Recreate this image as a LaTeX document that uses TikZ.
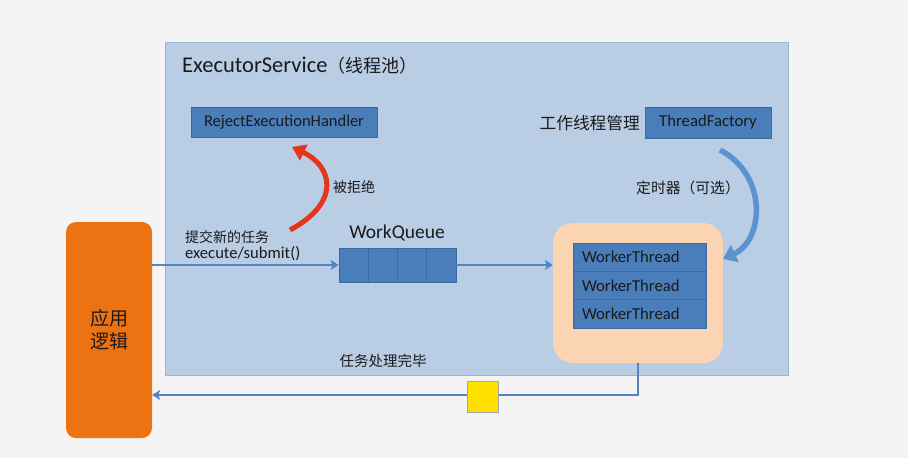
\documentclass[tikz,border=0pt]{standalone}
\usepackage{fontspec}
\setmainfont{Carlito}
\newfontfamily\cjk{Noto Sans CJK SC}
\usetikzlibrary{arrows.meta}
\definecolor{bg}{HTML}{F4F4F4}
\definecolor{poolfill}{HTML}{B9CDE5}
\definecolor{pooldraw}{HTML}{98B4D6}
\definecolor{boxfill}{HTML}{4A7EBB}
\definecolor{boxdraw}{HTML}{3C68A0}
\definecolor{txt}{HTML}{1A1A1A}
\definecolor{orangefill}{HTML}{EC7212}
\definecolor{peachfill}{HTML}{FBD4B4}
\definecolor{flowcol}{HTML}{5285C0}
\definecolor{redcol}{HTML}{E5351C}
\definecolor{bluecurve}{HTML}{5A93D0}
\definecolor{yellowfill}{HTML}{FFE000}
\tikzset{
  darkbox/.style={draw=boxdraw, fill=boxfill, line width=0.8pt, inner sep=0pt,
    text=txt, font=\fontsize{16.7}{18}\selectfont},
  workerbox/.style={darkbox, inner xsep=9pt, text width=115pt, align=left,
    minimum height=28.3pt},
  lbl/.style={inner sep=0pt, text=txt, font=\fontsize{14}{16}\selectfont},
  flow/.style={draw=flowcol, line width=2pt, -{Stealth[width=10pt,length=8pt,inset=2pt]}},
}
\begin{document}
\begin{tikzpicture}[x=1pt,y=-1pt]
\useasboundingbox (0,0) rectangle (908,458);
\fill[bg] (0,0) rectangle (908,458);

% pool
\node[draw=pooldraw, fill=poolfill, line width=1pt, inner sep=0pt,
  minimum width=623pt, minimum height=333pt, anchor=north west] (pool) at (165,42) {};
\node[lbl, anchor=base west, font=\fontsize{22.5}{26}\selectfont] (title) at (182,72)
  {ExecutorService{\cjk\fontsize{18}{22}\selectfont（线程池）}};

% reject handler
\node[darkbox, font=\fontsize{16.5}{18}\selectfont, minimum width=186pt, minimum height=30pt] (reject) at (284,122)
  {RejectExecutionHandler};

% thread factory
\node[darkbox, minimum width=126pt, minimum height=31pt] (tf) at (708,122.5)
  {ThreadFactory};
\node[lbl, anchor=east, font=\cjk\fontsize{16.7}{18}\selectfont] (tflabel) at (640,123)
  {工作线程管理};

% app logic
\node[fill=orangefill, rounded corners=10pt, inner sep=0pt,
  minimum width=86pt, minimum height=216pt, text=txt, align=center,
  font=\cjk\fontsize{19}{23}\selectfont] (app) at (109,330) {应用\\逻辑};

% worker area
\node[fill=peachfill, rounded corners=20pt, inner sep=0pt,
  minimum width=170pt, minimum height=140pt] (peach) at (638,293) {};
\node[workerbox] (wt1) at (639.5,257.2) {WorkerThread};
\node[workerbox] (wt2) at (639.5,285.5) {WorkerThread};
\node[workerbox] (wt3) at (639.5,313.8) {WorkerThread};

% work queue
\node[darkbox, minimum width=29.25pt, minimum height=34pt] (q1) at (353.6,265) {};
\node[darkbox, minimum width=29.25pt, minimum height=34pt] (q2) at (382.9,265) {};
\node[darkbox, minimum width=29.25pt, minimum height=34pt] (q3) at (412.1,265) {};
\node[darkbox, minimum width=29.25pt, minimum height=34pt] (q4) at (441.4,265) {};
\node[lbl, font=\fontsize{19.5}{22}\selectfont] (wq) at (397,233) {WorkQueue};

% labels
\node[lbl, anchor=base west, font=\cjk\fontsize{14}{16}\selectfont] (sub1) at (185,242) {提交新的任务};
\node[lbl, anchor=base west, font=\fontsize{16.6}{18}\selectfont] (sub2) at (185,258) {execute/submit()};
\node[lbl, anchor=west, font=\cjk\fontsize{14}{16}\selectfont] (rej) at (333,187) {被拒绝};
\node[lbl, anchor=west, font=\cjk\fontsize{14.8}{16}\selectfont] (timer) at (636,188) {定时器（可选）};
\node[lbl, font=\cjk\fontsize{14.5}{16}\selectfont] (done) at (383,361) {任务处理完毕};

% flows
\draw[flow] (app.east |- q1.west) -- (q1.west);
\draw[flow] (q4.east) -- (peach.west |- q4.east);
\coordinate (corner) at (peach.south |- 0,395);
\draw[flow] (peach.south) -- (corner) -- (app.east |- corner);
\node[draw=black!35, fill=yellowfill, line width=0.8pt, inner sep=0pt,
  minimum width=31pt, minimum height=31pt] (yellow) at (482.5,396.5) {};

% curved arrows
\coordinate (redtail) at (290,230);
\coordinate (redtip) at (292,147);
\draw[draw=redcol, line width=5pt, -{Triangle[width=17pt,length=13pt]}]
  (redtail) .. controls (342,202) and (332,166) .. (redtip);
\coordinate (bluetail) at (720,150);
\coordinate (bluetip) at (723,259);
\draw[draw=bluecurve, line width=5.5pt, -{Triangle[width=18pt,length=13pt]}]
  (bluetail) .. controls (768,175) and (764,240) .. (bluetip);
\end{tikzpicture}
\end{document}
